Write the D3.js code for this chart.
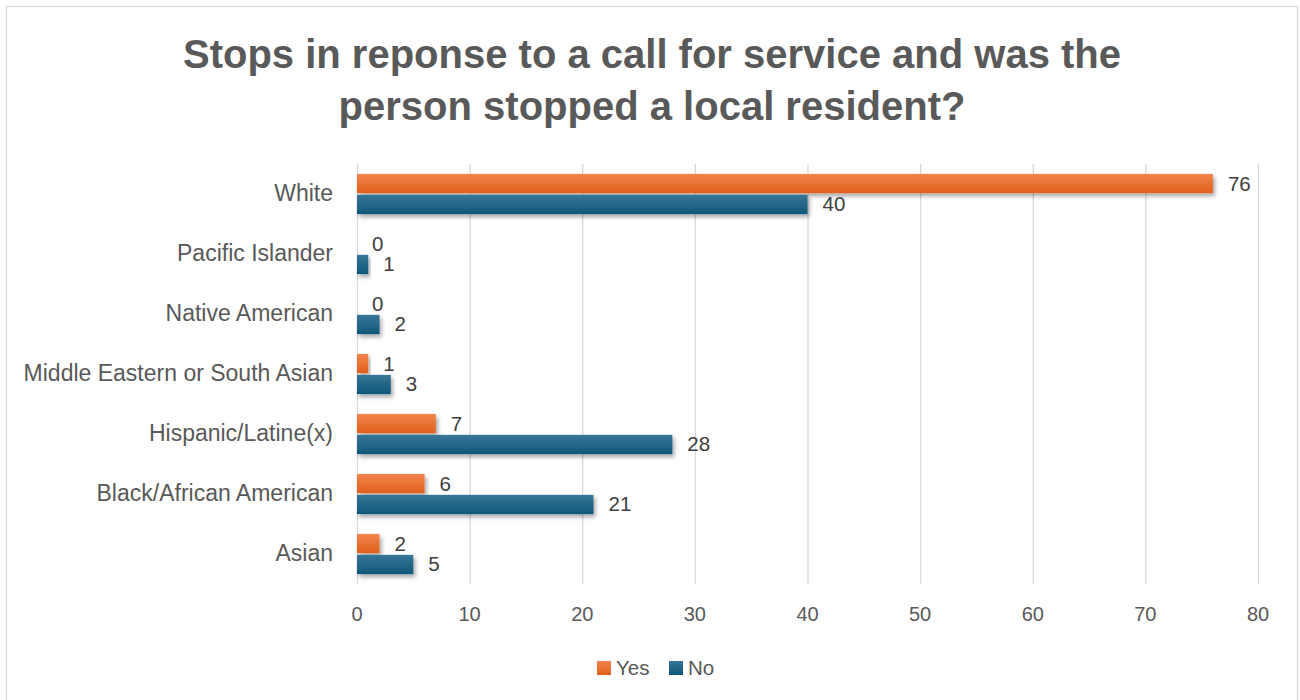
<!DOCTYPE html>
<html>
<head>
<meta charset="utf-8">
<script src="https://cdn.jsdelivr.net/npm/d3@7"></script>
<style>
  body { margin: 0; background: #fff; }
  svg { font-family: "Liberation Sans", Arial, sans-serif; }
  .grid line { stroke: #d9d9d9; stroke-width: 1.3; }
  .grid path { display: none; }
</style>
</head>
<body>
<svg id="chart" width="1300" height="700"></svg>
<script>
// chart data
var categories = ["White", "Pacific Islander", "Native American", "Middle Eastern or South Asian",
                  "Hispanic/Latine(x)", "Black/African American", "Asian"];
var yesValues = [76, 0, 0, 1, 7, 6, 2];
var noValues = [40, 1, 2, 3, 28, 21, 5];
var seriesNames = ["Yes", "No"];
var xTicks = [0, 10, 20, 30, 40, 50, 60, 70, 80];
var titleLines = ["Stops in reponse to a call for service and was the",
                  "person stopped a local resident?"];

var colors = {Yes: ["#f2854c", "#e05f1c"], No: ["#3a7697", "#0d5779"]};

var svg = d3.select("#chart");
var margin = {top: 164, left: 357, right: 42, bottom: 116};
var width = 1300, height = 700;
var inner_w = width - margin.left - margin.right;
var inner_h = height - margin.top - margin.bottom;

// outer frame
svg.append("rect")
   .attr("x", 6.5).attr("y", 6.5)
   .attr("width", 1291).attr("height", 700)
   .attr("fill", "#fff")
   .attr("stroke", "#d9d9d9")
   .attr("stroke-width", 1.3);

var defs = svg.append("defs");
seriesNames.forEach(function(s){
	var g = defs.append("linearGradient")
	            .attr("id", "grad_" + s)
	            .attr("x1", 0).attr("y1", 0).attr("x2", 0).attr("y2", 1);
	g.append("stop").attr("offset", "0%").attr("stop-color", colors[s][0]);
	g.append("stop").attr("offset", "100%").attr("stop-color", colors[s][1]);
});
defs.append("filter")
    .attr("id", "shadow")
    .attr("x", "-10%").attr("y", "-30%").attr("width", "130%").attr("height", "180%")
    .append("feDropShadow")
    .attr("dx", 2).attr("dy", 3)
    .attr("stdDeviation", 2)
    .attr("flood-color", "#000")
    .attr("flood-opacity", 0.35);

// title
svg.append("g")
   .selectAll("text")
   .data(titleLines)
   .enter()
   .append("text")
   .attr("x", 652)
   .attr("y", function(d, i){ return 68 + i * 52; })
   .attr("text-anchor", "middle")
   .attr("font-size", "40px")
   .attr("font-weight", "bold")
   .attr("fill", "#595959")
   .text(function(d){ return d; });

var g = svg.append("g")
           .attr("transform", "translate(" + margin.left + "," + margin.top + ")");

var xScale = d3.scaleLinear().domain([0, 80]).range([0, inner_w]);
var yScale = d3.scaleBand().domain(categories).range([0, inner_h])
               .paddingInner(0.33).paddingOuter(0.165);
var ySub = d3.scaleBand().domain(seriesNames).range([0, yScale.bandwidth()]).paddingInner(0.08);

// grid
g.append("g")
 .attr("class", "grid")
 .attr("transform", "translate(0," + inner_h + ")")
 .call(d3.axisBottom(xScale).tickValues(xTicks).tickSize(-inner_h).tickFormat(""));

// x tick labels
g.append("g")
 .selectAll("text")
 .data(xTicks)
 .enter()
 .append("text")
 .attr("x", function(d){ return xScale(d); })
 .attr("y", inner_h + 37)
 .attr("text-anchor", "middle")
 .attr("font-size", "20px")
 .attr("fill", "#595959")
 .text(function(d){ return d; });

// category labels
g.append("g")
 .selectAll("text")
 .data(categories)
 .enter()
 .append("text")
 .attr("x", -24)
 .attr("y", function(d){ return yScale(d) + yScale.bandwidth() / 2 + 6.5; })
 .attr("text-anchor", "end")
 .attr("font-size", "23px")
 .attr("fill", "#595959")
 .text(function(d){ return d; });

var rows = [];
categories.forEach(function(c, i){
	rows.push({cat: c, series: "Yes", value: yesValues[i]});
	rows.push({cat: c, series: "No", value: noValues[i]});
});

g.append("g")
 .selectAll("rect")
 .data(rows)
 .enter()
 .append("rect")
 .attr("x", xScale(0))
 .attr("y", function(d){ return yScale(d.cat) + ySub(d.series); })
 .attr("width", function(d){ return xScale(d.value) - xScale(0); })
 .attr("height", ySub.bandwidth())
 .attr("fill", function(d){ return "url(#grad_" + d.series + ")"; })
 .attr("filter", "url(#shadow)");

g.append("g")
 .selectAll("text")
 .data(rows)
 .enter()
 .append("text")
 .attr("x", function(d){ return xScale(d.value) + 15; })
 .attr("y", function(d){ return yScale(d.cat) + ySub(d.series) + ySub.bandwidth() / 2 + 7; })
 .attr("font-size", "20.5px")
 .attr("fill", "#404040")
 .text(function(d){ return d.value; });

// legend
var legend = svg.append("g").attr("transform", "translate(597,661)");
var legendItem = legend.selectAll("g")
                       .data(seriesNames)
                       .enter()
                       .append("g")
                       .attr("transform", function(d, i){ return "translate(" + (i * 72) + ",0)"; });
legendItem.append("rect")
          .attr("width", 14).attr("height", 14)
          .attr("fill", function(d){ return "url(#grad_" + d + ")"; });
legendItem.append("text")
          .attr("x", 19).attr("y", 14)
          .attr("font-size", "20.5px")
          .attr("fill", "#595959")
          .text(function(d){ return d; });
</script>
</body>
</html>
